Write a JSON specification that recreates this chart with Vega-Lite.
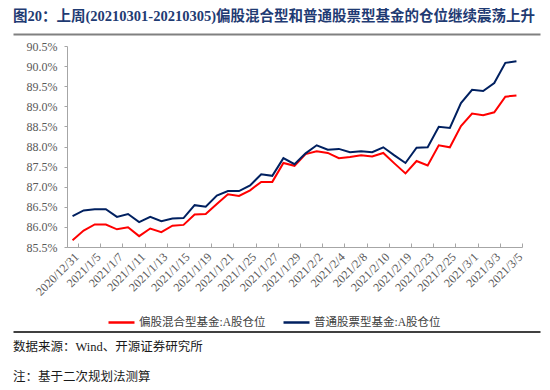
{
  "$schema": "https://vega.github.io/schema/vega-lite/v6.json",
  "background": "white",
  "padding": {"left": 13, "top": 8, "right": 5, "bottom": 2},
  "config": {
    "view": {"stroke": null},
    "font": "Liberation Serif, Noto Sans CJK SC",
    "title": {"font": "Liberation Serif, Noto Sans CJK SC"}
  },
  "datasets": {
    "pos": [
      {"date": "2020/12/31", "series": "偏股混合型基金:A股仓位", "value": 85.67},
      {"date": "2021/1/4", "series": "偏股混合型基金:A股仓位", "value": 85.91},
      {"date": "2021/1/5", "series": "偏股混合型基金:A股仓位", "value": 86.06},
      {"date": "2021/1/6", "series": "偏股混合型基金:A股仓位", "value": 86.06},
      {"date": "2021/1/7", "series": "偏股混合型基金:A股仓位", "value": 85.94},
      {"date": "2021/1/8", "series": "偏股混合型基金:A股仓位", "value": 85.99},
      {"date": "2021/1/11", "series": "偏股混合型基金:A股仓位", "value": 85.77},
      {"date": "2021/1/12", "series": "偏股混合型基金:A股仓位", "value": 85.96},
      {"date": "2021/1/13", "series": "偏股混合型基金:A股仓位", "value": 85.87},
      {"date": "2021/1/14", "series": "偏股混合型基金:A股仓位", "value": 86.03},
      {"date": "2021/1/15", "series": "偏股混合型基金:A股仓位", "value": 86.05},
      {"date": "2021/1/18", "series": "偏股混合型基金:A股仓位", "value": 86.31},
      {"date": "2021/1/19", "series": "偏股混合型基金:A股仓位", "value": 86.32},
      {"date": "2021/1/20", "series": "偏股混合型基金:A股仓位", "value": 86.57},
      {"date": "2021/1/21", "series": "偏股混合型基金:A股仓位", "value": 86.81},
      {"date": "2021/1/22", "series": "偏股混合型基金:A股仓位", "value": 86.77},
      {"date": "2021/1/25", "series": "偏股混合型基金:A股仓位", "value": 86.91},
      {"date": "2021/1/26", "series": "偏股混合型基金:A股仓位", "value": 87.12},
      {"date": "2021/1/27", "series": "偏股混合型基金:A股仓位", "value": 87.12},
      {"date": "2021/1/28", "series": "偏股混合型基金:A股仓位", "value": 87.59},
      {"date": "2021/1/29", "series": "偏股混合型基金:A股仓位", "value": 87.52},
      {"date": "2021/2/1", "series": "偏股混合型基金:A股仓位", "value": 87.81},
      {"date": "2021/2/2", "series": "偏股混合型基金:A股仓位", "value": 87.88},
      {"date": "2021/2/3", "series": "偏股混合型基金:A股仓位", "value": 87.84},
      {"date": "2021/2/4", "series": "偏股混合型基金:A股仓位", "value": 87.71},
      {"date": "2021/2/5", "series": "偏股混合型基金:A股仓位", "value": 87.74},
      {"date": "2021/2/8", "series": "偏股混合型基金:A股仓位", "value": 87.78},
      {"date": "2021/2/9", "series": "偏股混合型基金:A股仓位", "value": 87.75},
      {"date": "2021/2/10", "series": "偏股混合型基金:A股仓位", "value": 87.84},
      {"date": "2021/2/18", "series": "偏股混合型基金:A股仓位", "value": 87.58},
      {"date": "2021/2/19", "series": "偏股混合型基金:A股仓位", "value": 87.33},
      {"date": "2021/2/22", "series": "偏股混合型基金:A股仓位", "value": 87.64},
      {"date": "2021/2/23", "series": "偏股混合型基金:A股仓位", "value": 87.53},
      {"date": "2021/2/24", "series": "偏股混合型基金:A股仓位", "value": 88.03},
      {"date": "2021/2/25", "series": "偏股混合型基金:A股仓位", "value": 87.98},
      {"date": "2021/2/26", "series": "偏股混合型基金:A股仓位", "value": 88.51},
      {"date": "2021/3/1", "series": "偏股混合型基金:A股仓位", "value": 88.82},
      {"date": "2021/3/2", "series": "偏股混合型基金:A股仓位", "value": 88.78},
      {"date": "2021/3/3", "series": "偏股混合型基金:A股仓位", "value": 88.85},
      {"date": "2021/3/4", "series": "偏股混合型基金:A股仓位", "value": 89.24},
      {"date": "2021/3/5", "series": "偏股混合型基金:A股仓位", "value": 89.27},
      {"date": "2020/12/31", "series": "普通股票型基金:A股仓位", "value": 86.27},
      {"date": "2021/1/4", "series": "普通股票型基金:A股仓位", "value": 86.41},
      {"date": "2021/1/5", "series": "普通股票型基金:A股仓位", "value": 86.44},
      {"date": "2021/1/6", "series": "普通股票型基金:A股仓位", "value": 86.44},
      {"date": "2021/1/7", "series": "普通股票型基金:A股仓位", "value": 86.25},
      {"date": "2021/1/8", "series": "普通股票型基金:A股仓位", "value": 86.32},
      {"date": "2021/1/11", "series": "普通股票型基金:A股仓位", "value": 86.12},
      {"date": "2021/1/12", "series": "普通股票型基金:A股仓位", "value": 86.25},
      {"date": "2021/1/13", "series": "普通股票型基金:A股仓位", "value": 86.14},
      {"date": "2021/1/14", "series": "普通股票型基金:A股仓位", "value": 86.21},
      {"date": "2021/1/15", "series": "普通股票型基金:A股仓位", "value": 86.22},
      {"date": "2021/1/18", "series": "普通股票型基金:A股仓位", "value": 86.54},
      {"date": "2021/1/19", "series": "普通股票型基金:A股仓位", "value": 86.5},
      {"date": "2021/1/20", "series": "普通股票型基金:A股仓位", "value": 86.78},
      {"date": "2021/1/21", "series": "普通股票型基金:A股仓位", "value": 86.89},
      {"date": "2021/1/22", "series": "普通股票型基金:A股仓位", "value": 86.89},
      {"date": "2021/1/25", "series": "普通股票型基金:A股仓位", "value": 87.03},
      {"date": "2021/1/26", "series": "普通股票型基金:A股仓位", "value": 87.31},
      {"date": "2021/1/27", "series": "普通股票型基金:A股仓位", "value": 87.27},
      {"date": "2021/1/28", "series": "普通股票型基金:A股仓位", "value": 87.71},
      {"date": "2021/1/29", "series": "普通股票型基金:A股仓位", "value": 87.56},
      {"date": "2021/2/1", "series": "普通股票型基金:A股仓位", "value": 87.83},
      {"date": "2021/2/2", "series": "普通股票型基金:A股仓位", "value": 88.03},
      {"date": "2021/2/3", "series": "普通股票型基金:A股仓位", "value": 87.92},
      {"date": "2021/2/4", "series": "普通股票型基金:A股仓位", "value": 87.94},
      {"date": "2021/2/5", "series": "普通股票型基金:A股仓位", "value": 87.86},
      {"date": "2021/2/8", "series": "普通股票型基金:A股仓位", "value": 87.88},
      {"date": "2021/2/9", "series": "普通股票型基金:A股仓位", "value": 87.86},
      {"date": "2021/2/10", "series": "普通股票型基金:A股仓位", "value": 87.98},
      {"date": "2021/2/18", "series": "普通股票型基金:A股仓位", "value": 87.78},
      {"date": "2021/2/19", "series": "普通股票型基金:A股仓位", "value": 87.59},
      {"date": "2021/2/22", "series": "普通股票型基金:A股仓位", "value": 87.97},
      {"date": "2021/2/23", "series": "普通股票型基金:A股仓位", "value": 87.98},
      {"date": "2021/2/24", "series": "普通股票型基金:A股仓位", "value": 88.49},
      {"date": "2021/2/25", "series": "普通股票型基金:A股仓位", "value": 88.46},
      {"date": "2021/2/26", "series": "普通股票型基金:A股仓位", "value": 89.08},
      {"date": "2021/3/1", "series": "普通股票型基金:A股仓位", "value": 89.41},
      {"date": "2021/3/2", "series": "普通股票型基金:A股仓位", "value": 89.38},
      {"date": "2021/3/3", "series": "普通股票型基金:A股仓位", "value": 89.58},
      {"date": "2021/3/4", "series": "普通股票型基金:A股仓位", "value": 90.08},
      {"date": "2021/3/5", "series": "普通股票型基金:A股仓位", "value": 90.12}
    ]
  },
  "spacing": 4,
  "vconcat": [
    {
      "width": 527,
      "height": 2,
      "title": {
        "text": "图20：上周(20210301-20210305)偏股混合型和普通股票型基金的仓位继续震荡上升",
        "anchor": "start",
        "fontSize": 14.5,
        "fontWeight": "bold",
        "color": "#1F3B73",
        "offset": -8,
        "baseline": "bottom"
      },
      "data": {"values": [{}]},
      "mark": {"type": "point", "opacity": 0},
      "encoding": {
        "x": {
          "datum": 0.5,
          "type": "quantitative",
          "scale": {"domain": [0, 1]},
          "axis": {"orient": "bottom", "title": null, "labels": false, "ticks": false, "grid": false, "domainColor": "#808080", "domainWidth": 2}
        }
      }
    },
    {
      "spacing": 30,
      "vconcat": [
        {
          "spacing": 12,
          "hconcat": [
            {
              "width": 1,
              "height": 1,
              "data": {"values": []},
              "mark": "point",
              "encoding": {}
            },
            {
              "width": 455,
              "height": 201,
              "data": {"name": "pos"},
              "mark": {"type": "line", "strokeWidth": 2},
              "encoding": {
                "x": {
                  "field": "date",
                  "type": "ordinal",
                  "sort": null,
                  "scale": {"type": "band", "paddingInner": 0, "paddingOuter": 0},
                  "axis": {
                    "title": null,
                    "values": ["2020/12/31", "2021/1/5", "2021/1/7", "2021/1/11", "2021/1/13", "2021/1/15", "2021/1/19", "2021/1/21", "2021/1/25", "2021/1/27", "2021/1/29", "2021/2/2", "2021/2/4", "2021/2/8", "2021/2/10", "2021/2/19", "2021/2/23", "2021/2/25", "2021/3/1", "2021/3/3", "2021/3/5"],
                    "tickBand": "extent",
                    "labelAngle": -45,
                    "labelFontSize": 12,
                    "labelColor": "#595959",
                    "domainColor": "#A6A6A6",
                    "tickColor": "#A6A6A6",
                    "tickSize": -4,
                    "labelPadding": 8,
                    "grid": false
                  }
                },
                "y": {
                  "field": "value",
                  "type": "quantitative",
                  "scale": {"domain": [85.5, 90.5], "zero": false, "nice": false},
                  "axis": {
                    "title": null,
                    "values": [85.5, 86, 86.5, 87, 87.5, 88, 88.5, 89, 89.5, 90, 90.5],
                    "labelExpr": "format(datum.value, '.1f') + '%'",
                    "labelOverlap": false,
                    "labelFontSize": 12,
                    "labelColor": "#595959",
                    "domainColor": "#A6A6A6",
                    "tickColor": "#A6A6A6",
                    "tickSize": 3,
                    "labelPadding": 7,
                    "grid": false
                  }
                },
                "color": {
                  "field": "series",
                  "type": "nominal",
                  "scale": {"domain": ["偏股混合型基金:A股仓位", "普通股票型基金:A股仓位"], "range": ["#FF0000", "#002060"]},
                  "legend": {
                    "title": null,
                    "orient": "none",
                    "legendX": 94,
                    "legendY": 276,
                    "direction": "horizontal",
                    "symbolType": "stroke",
                    "symbolSize": 676,
                    "symbolStrokeWidth": 2.5,
                    "labelFontSize": 11.5,
                    "labelColor": "#404040",
                    "columnPadding": 12,
                    "labelOffset": 3,
                    "padding": 0
                  }
                }
              }
            }
          ]
        },
        {
          "width": 527,
          "height": 1.5,
          "title": {
            "text": ["数据来源：Wind、开源证券研究所", "注：基于二次规划法测算"],
            "orient": "bottom",
            "anchor": "start",
            "fontSize": 12.5,
            "fontWeight": "normal",
            "color": "#1A1A1A",
            "offset": 8,
            "baseline": "top",
            "lineHeight": 30
          },
          "data": {"values": [{}]},
          "mark": {"type": "point", "opacity": 0},
          "encoding": {
            "x": {
              "datum": 0.5,
              "type": "quantitative",
              "scale": {"domain": [0, 1]},
              "axis": {"orient": "bottom", "title": null, "labels": false, "ticks": false, "grid": false, "domainColor": "#000000", "domainWidth": 1.5}
            }
          }
        }
      ]
    }
  ]
}
